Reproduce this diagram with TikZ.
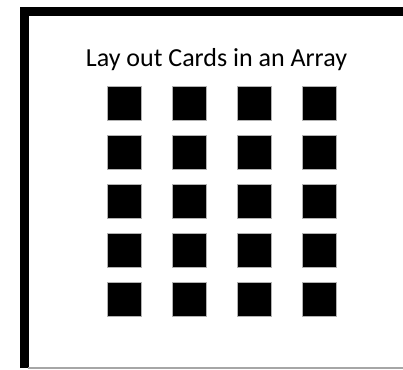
\documentclass[tikz,border=0pt]{standalone}
\usepackage{fontspec}
\setmainfont{Carlito}
\usetikzlibrary{positioning}
\tikzset{
  card/.style={fill=black, draw=gray!60, line width=0.6pt, minimum width=34.5pt, minimum height=34.5pt, inner sep=0pt},
  frameline/.style={line width=8.4pt},
}

\begin{document}
\begin{tikzpicture}[x=1pt, y=-1pt]
\useasboundingbox (0,0) rectangle (403,369);
% frame
\coordinate (fbl) at (24.5,368);
\coordinate (ftl) at (24.5,11.5);
\coordinate (ftr) at (410,11.5);
\draw[frameline] (fbl) -- (ftl) -- (ftr);
\coordinate (bl) at (28,368);
\coordinate (br) at (403,368);
\draw[gray!70, line width=1.2pt] (bl) -- (br);
% title
\node[anchor=base, font=\fontsize{26}{30}\selectfont, inner sep=0pt] (title) at (216.5,66) {Lay out Cards in an Array};
% cards
\foreach \r in {0,...,4}{
  \foreach \c in {0,...,3}{
    \node[card] (card-\r-\c) at ({124.5+65*\c},{103.5+49*\r}) {};
  }
}
\end{tikzpicture}
\end{document}
